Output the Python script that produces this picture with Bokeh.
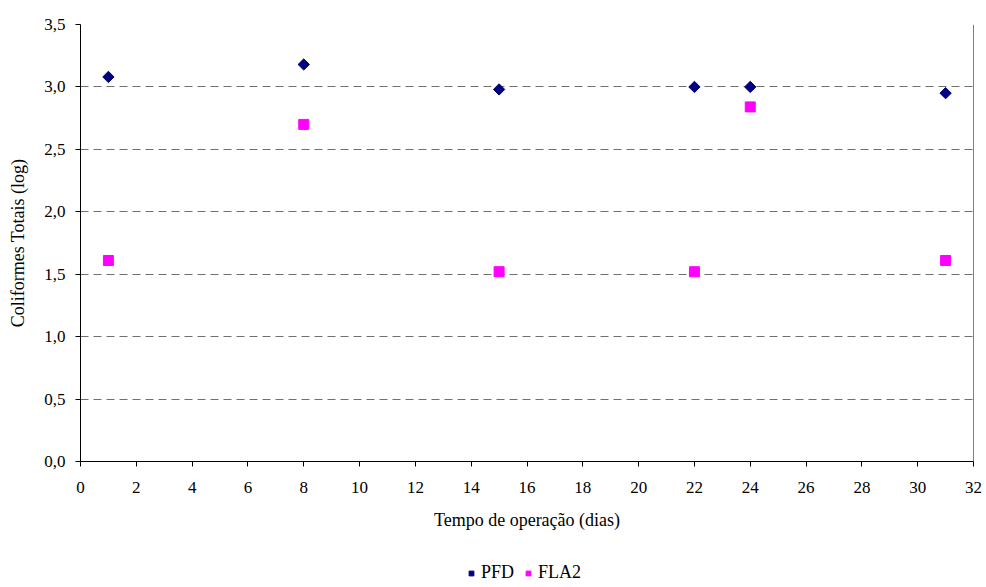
import math
from bokeh.plotting import figure
from bokeh.layouts import column
from bokeh.models import Range1d, FixedTicker, Legend, LegendItem, Span, ColumnDataSource
from bokeh.embed import file_html
from bokeh.resources import INLINE

# Data
days_pfd = [1, 8, 15, 22, 24, 31]
pfd = [3.08, 3.18, 2.98, 3.00, 3.00, 2.95]
days_fla2 = [1, 8, 15, 22, 24, 31]
fla2 = [1.61, 2.70, 1.52, 1.52, 2.84, 1.61]

x_ticks = [0, 2, 4, 6, 8, 10, 12, 14, 16, 18, 20, 22, 24, 26, 28, 30, 32]
y_ticks = [0.0, 0.5, 1.0, 1.5, 2.0, 2.5, 3.0, 3.5]
y_tick_labels = ["0,0", "0,5", "1,0", "1,5", "2,0", "2,5", "3,0", "3,5"]
series_names = ["PFD", "FLA2"]

FONT = "Liberation Serif"
PFD_COLOR = "#000080"
FLA_COLOR = "#FF00FF"

p = figure(width=985, height=532, output_backend="svg", toolbar_location=None,
           x_range=Range1d(0, 32), y_range=Range1d(0, 3.5),
           min_border_left=80, min_border_right=12, min_border_top=24, min_border_bottom=71)
p.outline_line_color = None
p.background_fill_color = "white"
p.border_fill_color = "white"

src_pfd = ColumnDataSource(dict(x=days_pfd, y=pfd))
src_fla = ColumnDataSource(dict(x=days_fla2, y=fla2))
p.scatter("x", "y", source=src_pfd, marker="square", angle=math.pi / 4, size=8,
          fill_color=PFD_COLOR, line_color=PFD_COLOR)
p.scatter("x", "y", source=src_fla, marker="square", size=10,
          fill_color=FLA_COLOR, line_color=FLA_COLOR)

p.xgrid.visible = False
p.ygrid.ticker = FixedTicker(ticks=y_ticks)
p.ygrid.grid_line_color = "#707070"
p.ygrid.grid_line_dash = "8 5"
p.ygrid.grid_line_width = 1

p.add_layout(Span(location=32, dimension="height", line_color="black", line_width=1))

p.xaxis.ticker = FixedTicker(ticks=x_ticks)
p.yaxis.ticker = FixedTicker(ticks=y_ticks)
p.yaxis.major_label_overrides = {t: l for t, l in zip(y_ticks, y_tick_labels)}

for ax in (p.xaxis[0], p.yaxis[0]):
    ax.axis_line_color = "black"
    ax.major_tick_line_color = "black"
    ax.minor_tick_line_color = None
    ax.major_tick_in = 0
    ax.major_tick_out = 5
    ax.major_label_text_font = FONT
    ax.major_label_text_font_size = "17px"
    ax.major_label_text_color = "black"
    ax.axis_label_text_font = FONT
    ax.axis_label_text_font_size = "18px"
    ax.axis_label_text_font_style = "normal"
    ax.axis_label_text_color = "black"

p.xaxis.axis_label = "Tempo de operação (dias)"
p.yaxis.axis_label = "Coliformes Totais (log)"
p.xaxis.major_label_standoff = 15
p.xaxis.axis_label_standoff = 14
p.yaxis.major_label_standoff = 10
p.yaxis.axis_label_standoff = 13

# Legend strip below the chart (series renderers fall outside its ranges, only the legend shows)
lg = figure(width=985, height=55, output_backend="svg", toolbar_location=None,
            x_range=Range1d(100, 101), y_range=Range1d(100, 101),
            min_border_left=0, min_border_right=0, min_border_top=0, min_border_bottom=0)
lg.outline_line_color = None
lg.axis.visible = False
lg.grid.visible = False
lg.border_fill_color = "white"
lg.background_fill_color = "white"
lg1 = lg.scatter("x", "y", source=src_pfd, marker="square", angle=math.pi / 4, size=8,
                 fill_color=PFD_COLOR, line_color=PFD_COLOR)
lg2 = lg.scatter("x", "y", source=src_fla, marker="square", size=10,
                 fill_color=FLA_COLOR, line_color=FLA_COLOR)
legend = Legend(items=[LegendItem(label=series_names[0], renderers=[lg1]),
                       LegendItem(label=series_names[1], renderers=[lg2])],
                orientation="horizontal", location=(385, 4),
                border_line_color=None, background_fill_alpha=0,
                label_text_font=FONT, label_text_font_size="18px", label_text_color="black",
                glyph_width=12, glyph_height=12, label_height=16,
                label_standoff=4, spacing=8, padding=0, margin=0)
lg.add_layout(legend)

layout = column(p, lg, spacing=0)
open("out.html", "w").write(file_html(layout, INLINE))
